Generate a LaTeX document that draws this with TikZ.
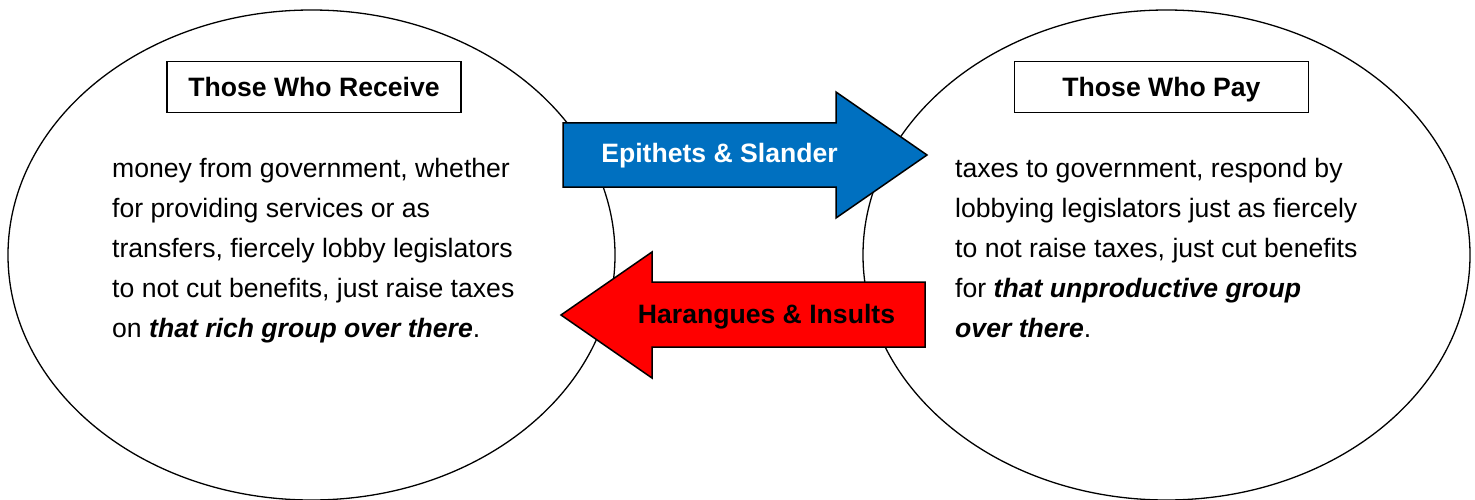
\documentclass[tikz,border=0pt]{standalone}
\usepackage{fontspec}
\setsansfont{Liberation Sans}
\usetikzlibrary{shapes.geometric, positioning, calc}
\definecolor{cSlanderFill}{RGB}{0, 112, 192}
\definecolor{cInsultFill}{RGB}{255, 0, 0}
\definecolor{lineColor}{RGB}{0, 0, 0}
\tikzset{
    font=\fontsize{26.6}{40}\sffamily\selectfont,
    % 两个群体的椭圆
    groupOval/.style={
        ellipse, draw=lineColor, line width=1.3pt,
        minimum width=607, minimum height=490, inner sep=0pt
    },
    % 标题方框
    titleBox/.style={
        rectangle, draw=lineColor, line width=1.5pt, fill=white,
        minimum width=294, minimum height=51, text height=20pt, text depth=0pt,
        font=\fontsize{26.6}{40}\sffamily\bfseries\selectfont
    },
    % 正文
    bodyText/.style={align=left, anchor=north west, inner sep=0pt},
    % 箭头形状
    arrowShape/.style={draw=lineColor, line width=1.5pt, line join=miter},
    arrowText/.style={font=\fontsize{26.6}{40}\sffamily\bfseries\selectfont,
        inner sep=0pt, text height=18pt, text depth=0pt}
}

\begin{document}
\begin{tikzpicture}[x=1pt, y=-1pt]

	\useasboundingbox (0,0) rectangle (1475,500);

	% ==========================================
	% 1. 左侧: Those Who Receive
	% ==========================================
	\node [groupOval] (receive) at (311.5,255) {};
	\node [titleBox] (titleReceive) at (314,87) {Those Who Receive};
	\node [bodyText] (textReceive) at (112,158) {
		money from government, whether\\
		for providing services or as\\
		transfers, fiercely lobby legislators\\
		to not cut benefits, just raise taxes\\
		on \textbf{\textit{that rich group over there}}.
	};

	% ==========================================
	% 2. 右侧: Those Who Pay
	% ==========================================
	\node [groupOval] (pay) at (1166.5,255) {};
	\node [titleBox] (titlePay) at (1161.5,87) {Those Who Pay};
	\node [bodyText] (textPay) at (955,158) {
		taxes to government, respond by\\
		lobbying legislators just as fiercely\\
		to not raise taxes, just cut benefits\\
		for \textbf{\textit{that unproductive group}}\\
		\textbf{\textit{over there}}.
	};

	% ==========================================
	% 3. 箭头
	% ==========================================
	% 蓝色 -> 右
	\draw [arrowShape, fill=cSlanderFill]
	(563,123) -- (836,123) -- (836,92) -- (927,155) -- (836,218) -- (836,187) -- (563,187) -- cycle;
	\node [arrowText, text=white] (slander) at (719.5,154) {Epithets \& Slander};

	% 红色 <- 左
	\draw [arrowShape, fill=cInsultFill]
	(925,282) -- (652,282) -- (652,252) -- (561,315) -- (652,378) -- (652,347) -- (925,347) -- cycle;
	\node [arrowText, text=black] (insults) at (766.5,314) {Harangues \& Insults};

\end{tikzpicture}
\end{document}
